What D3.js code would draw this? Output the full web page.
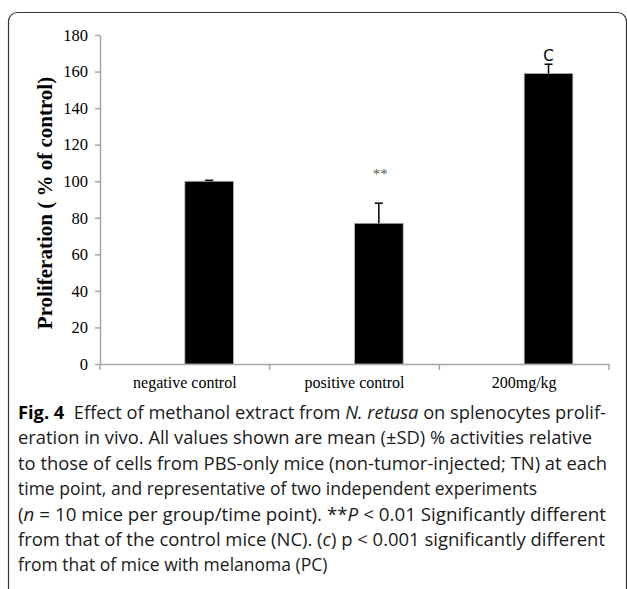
<!DOCTYPE html>
<html><head><meta charset="utf-8">
<script src="https://cdn.jsdelivr.net/npm/d3@7"></script>
<style>
html,body{margin:0;padding:0;background:#fff;}
svg{display:block;}
</style></head>
<body>
<script>
const categories = ["negative control", "positive control", "200mg/kg"];
const values = [100, 77, 159];
const sdValues = [0.5, 11, 5];
const annotations = ["", "**", "C"];
const yTicks = [0, 20, 40, 60, 80, 100, 120, 140, 160, 180];
const yTitle = "Proliferation ( % of control)";
const captionLines = [
  [["Fig. 4", "b"], ["  Effect of methanol extract from ", ""], ["N. retusa", "i"], [" on splenocytes prolif-", ""]],
  [["eration in vivo. All values shown are mean (±SD) % activities relative", ""]],
  [["to those of cells from PBS-only mice (non-tumor-injected; TN) at each", ""]],
  [["time point, and representative of two independent experiments", ""]],
  [["(", ""], ["n", "i"], [" = 10 mice per group/time point). **", ""], ["P", "i"], [" < 0.01 Significantly different", ""]],
  [["from that of the control mice (NC). (", ""], ["c", "i"], [") p < 0.001 significantly different", ""]],
  [["from that of mice with melanoma (PC)", ""]]
];
// 0 = natural width (not justified)
const captionWidths = [588, 574, 589, 0, 588, 587, 0];

const W = 627, H = 589;
const svg = d3.select("body").append("svg").attr("width", W).attr("height", H);

// frame
svg.append("rect").attr("x", 8.5).attr("y", 12.5).attr("width", 618).attr("height", 640)
  .attr("rx", 9).attr("fill", "none").attr("stroke", "#333").attr("stroke-width", 1.2);

const x = d3.scaleBand().domain(categories).range([100, 609]).paddingInner(0).paddingOuter(0);
const y = d3.scaleLinear().domain([0, 180]).range([364, 35]);
const axisColor = "#a6a6a6";
const serif = "'Liberation Serif', 'Times New Roman', serif";

// y axis
const ya = svg.append("g").attr("transform", "translate(100,0)")
  .call(d3.axisLeft(y).tickValues(yTicks).tickSize(5).tickPadding(7).tickSizeOuter(0));
ya.select(".domain").attr("stroke", axisColor).attr("stroke-width", 1.5);
ya.selectAll(".tick line").attr("stroke", axisColor).attr("stroke-width", 1.5);
ya.selectAll(".tick text").attr("font-family", serif).attr("font-size", 16.5).attr("fill", "#000");

// x axis
const xa = svg.append("g").attr("transform", "translate(0,364)")
  .call(d3.axisBottom(x).tickSize(0).tickPadding(0).tickSizeOuter(0));
xa.select(".domain").attr("stroke", axisColor).attr("stroke-width", 1.5);
xa.selectAll(".tick text").attr("font-family", serif).attr("font-size", 16).attr("fill", "#000").attr("dy", null).attr("y", 24);
// category separators
const seps = categories.map(c => x(c)).concat([x.range()[1]]);
svg.append("g").selectAll("line").data(seps).join("line")
  .attr("x1", d => d).attr("x2", d => d).attr("y1", 364).attr("y2", 370)
  .attr("stroke", axisColor).attr("stroke-width", 1.5);

// bars
const bw = x.bandwidth() * 0.287;
const bars = svg.append("g");
bars.selectAll("rect").data(categories).join("rect")
  .attr("x", c => x(c) + x.bandwidth() / 2)
  .attr("y", (c, i) => y(values[i]))
  .attr("width", bw)
  .attr("height", (c, i) => y(0) - y(values[i]))
  .attr("fill", "#000").attr("stroke", "#bbb").attr("stroke-width", 0.8);

// error bars
const eb = svg.append("g").attr("stroke", "#000").attr("stroke-width", 1.5);
categories.forEach((c, i) => {
  const cx = x(c) + x.bandwidth() / 2 + bw / 2;
  eb.append("line").attr("x1", cx).attr("x2", cx).attr("y1", y(values[i])).attr("y2", y(values[i] + sdValues[i]));
  eb.append("line").attr("x1", cx - 4).attr("x2", cx + 4).attr("y1", y(values[i] + sdValues[i])).attr("y2", y(values[i] + sdValues[i]));
});

// annotations
categories.forEach((c, i) => {
  if (!annotations[i]) return;
  const cx = x(c) + x.bandwidth() / 2 + bw / 2;
  const t = svg.append("text").attr("text-anchor", "middle").text(annotations[i]);
  if (annotations[i] === "**") {
    t.attr("x", cx + 1.5).attr("y", y(values[i] + sdValues[i]) - 24)
     .attr("font-family", serif).attr("font-size", 15).attr("fill", "#555");
  } else {
    t.attr("x", cx).attr("y", y(values[i] + sdValues[i]) - 3)
     .attr("font-family", "'DejaVu Sans', sans-serif").attr("font-size", 15).attr("fill", "#000");
  }
});

// y title
svg.append("text").attr("transform", "translate(52,203) rotate(-90)")
  .attr("text-anchor", "middle").attr("font-family", serif).attr("font-weight", "bold")
  .attr("font-size", 21).attr("fill", "#000").text(yTitle);

// caption
const capFont = "'Open Sans', 'Noto Sans', sans-serif";
const capTexts = captionLines.map((parts, li) => {
  const t = svg.append("text").attr("x", 18).attr("y", 419 + li * 25.4)
    .attr("font-family", capFont).attr("font-size", 17).attr("fill", "#1a1a1a")
    .attr("xml:space", "preserve").style("white-space", "pre");
  parts.forEach(([s, st]) => {
    const ts = t.append("tspan").text(s);
    if (st === "b") ts.attr("font-weight", "bold").attr("fill", "#000");
    if (st === "i") ts.attr("font-style", "italic");
  });
  return t;
});
// size chosen so a full justified line fits with only slight adjustment
const nat = capTexts[5].node().getComputedTextLength();
const fs = Math.min(17.5, 17 * captionWidths[5] / nat);
capTexts.forEach((t, li) => {
  t.attr("font-size", fs);
  if (captionWidths[li]) t.attr("textLength", captionWidths[li]).attr("lengthAdjust", "spacingAndGlyphs");
});
</script>
</body></html>
